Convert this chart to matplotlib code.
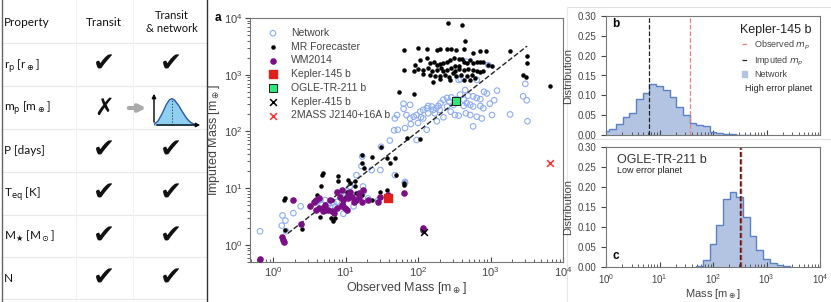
import numpy as np
import matplotlib
matplotlib.use("Agg")
import matplotlib.pyplot as plt
from matplotlib.lines import Line2D
from matplotlib.patches import Patch

plt.rcParams['font.family'] = ['Liberation Sans', 'DejaVu Sans']

# ---------------- data (log10 of masses in Earth masses) ----------------
# Network imputations
net_obs_log = [0.13, 0.17, 0.12, 0.18, -0.18, 0.28, 0.38, 0.59, 0.65, 0.72, 0.76, 0.83, 0.88, 0.95,
               1.02, 1.06, 1.15, 1.22, 1.23, 1.36, 1.48, 1.68, 1.82, 1.82, 0.97, 1.11, 1.25, 1.24,
               1.31, 1.45, 0.86, 0.67, 1.15, 0.79,
               2.56, 2.59, 2.67, 2.81, 2.97, 3.48, 3.45, 3.50, 3.51, 3.27, 3.09, 3.05, 2.95, 2.91,
               2.86, 2.81, 2.76, 2.69, 2.65, 2.63, 2.58, 2.53, 2.46, 2.43, 2.40, 2.35, 2.31, 2.28,
               2.25, 2.21, 2.19, 2.14, 2.12, 2.07, 2.03, 1.98, 1.94, 1.89, 1.84, 1.80, 1.80, 1.71,
               1.68, 2.07, 2.14, 2.23, 2.30, 2.40, 2.49, 2.63, 2.67, 2.72, 2.76, 2.86, 2.90, 2.99,
               3.02, 2.88, 2.76, 2.66, 2.72, 2.81, 2.04, 2.00, 1.90, 1.82, 1.72, 1.67, 1.61, 1.49,
               1.98, 2.12, 2.26, 2.35, 2.56, 1.89, 2.51, 2.45]
net_imp_log = [0.52, 0.43, 0.34, 0.24, 0.24, 0.56, 0.68, 0.75, 0.79, 0.79, 0.71, 0.75, 0.76, 0.85,
               0.94, 1.03, 1.23, 1.39, 1.56, 1.32, 1.32, 1.23, 1.11, 1.09, 0.55, 0.68, 0.94, 1.03,
               0.82, 0.79, 0.68, 0.71, 0.85, 0.65,
               2.91, 2.92, 3.23, 2.91, 3.17, 2.84, 2.62, 2.55, 2.18, 2.30, 2.72, 2.55, 2.67, 2.70,
               2.57, 2.59, 2.62, 2.63, 2.73, 2.56, 2.65, 2.57, 2.60, 2.53, 2.59, 2.56, 2.50, 2.45,
               2.41, 2.38, 2.44, 2.45, 2.41, 2.38, 2.35, 2.29, 2.26, 2.23, 2.29, 2.49, 2.40, 2.29,
               2.23, 2.23, 2.32, 2.32, 2.38, 2.44, 2.47, 2.45, 2.50, 2.47, 2.44, 2.45, 2.41, 2.49,
               2.29, 2.23, 2.09, 2.32, 2.29, 2.26, 2.25, 2.15, 2.13, 2.06, 2.03, 2.02, 1.84, 1.73,
               1.85, 2.03, 2.18, 2.25, 2.28, 2.47, 2.29, 2.35]

# MR Forecaster
mr_obs_log = [2.42, 2.61, 2.65, 1.81, 1.80, 1.74, 1.94, 1.85, 2.03, 1.49, 3.27, 3.51, 3.50, 3.45,
              3.49, 3.82,
              2.00, 2.12, 2.26, 2.30, 2.40, 2.45, 2.52, 2.63, 2.76, 2.86, 2.94,
              1.96, 2.02, 2.12, 2.17, 2.22, 2.26, 2.30, 2.35, 2.40, 2.44, 2.49, 2.56, 2.60, 2.63,
              2.67, 2.72, 2.76, 2.81, 2.86, 2.90, 2.96, 3.02,
              2.00, 2.07, 2.14, 2.19, 2.26, 2.32, 2.35, 2.40, 2.45, 2.51, 2.57, 2.63, 2.69, 2.76,
              2.81, 2.86, 2.90,
              2.17, 2.23, 2.30, 2.37, 2.43, 2.48, 2.53, 2.59, 2.67, 2.74, 2.79, 2.30, 2.44, 2.21,
              2.63, 2.72, 2.07, 1.94, 2.56, 2.51,
              1.22, 1.36, 1.57, 1.61, 1.68, 1.70, 1.81, 1.81, 0.69, 0.68, 0.90, 0.90, 0.66, 0.61,
              0.58, 0.72, 0.65, 0.80, 0.82, 0.72, 0.86, 1.04, 1.06, 1.13, 1.02, 0.99, 1.06, 1.13,
              1.15, 1.22, 1.25, 1.36, 1.48, 1.57, 0.97, 1.02, 0.16, 0.15, 0.40, 0.17, 2.07, 0.81,
              1.22]
mr_imp_log = [3.91, 3.88, 3.59, 3.44, 3.09, 2.70, 2.66, 1.89, 1.86, 1.73, 3.41, 3.33, 3.20, 3.00,
              2.96, 2.80,
              3.47, 3.45, 3.44, 3.45, 3.45, 3.45, 3.44, 3.45, 3.38, 3.41, 3.41,
              3.17, 3.26, 3.29, 3.20, 3.23, 3.17, 3.19, 3.20, 3.23, 3.26, 3.29, 3.27, 3.27, 3.23,
              3.20, 3.26, 3.20, 3.23, 3.22, 3.23, 3.17, 3.15,
              3.10, 3.09, 3.12, 3.07, 3.09, 3.12, 3.06, 3.09, 3.12, 3.07, 3.10, 3.09, 3.10, 3.09,
              3.07, 3.04, 3.06,
              3.00, 2.97, 2.98, 3.00, 2.96, 3.03, 2.98, 3.00, 2.98, 3.00, 2.94, 2.92, 2.91, 2.88,
              2.91, 2.91, 3.02, 3.06, 3.16, 3.16,
              1.59, 1.55, 1.53, 1.44, 1.53, 1.23, 1.09, 1.06, 1.26, 1.23, 1.22, 1.12, 1.03, 0.88,
              0.79, 0.62, 0.50, 0.47, 0.43, 0.59, 0.47, 1.15, 1.09, 1.12, 0.94, 0.82, 0.88, 1.03,
              0.91, 1.44, 1.35, 0.79, 0.94, 0.97, 0.73, 0.62, 0.83, 0.79, 0.28, 0.26, 0.24, 0.79,
              0.88]

# WM2014
wm_obs_log = [-0.18, 0.12, 0.13, 0.15, 0.28, 0.38, 0.57, 0.59, 0.63, 0.64, 0.69, 0.72, 0.76, 0.81,
              0.84, 0.88, 0.95, 0.95, 0.97, 0.99, 1.02, 1.03, 1.06, 1.09, 1.11, 1.15, 1.18, 1.22,
              1.24, 1.31, 1.45, 1.48, 1.59, 1.81, 2.07, 2.07, 0.95, 0.79, 0.59, 0.69, 0.92, 1.04,
              1.18, 0.51, 0.88]
wm_imp_log = [-0.24, 0.14, 0.09, 0.06, 0.79, 0.37, 0.75, 0.79, 0.82, 0.65, 0.59, 0.71, 0.62, 0.59,
              0.56, 0.94, 0.71, 0.68, 0.79, 0.65, 0.62, 0.88, 0.94, 0.85, 0.76, 0.79, 0.91, 0.76,
              0.97, 0.79, 0.76, 0.85, 0.88, 0.92, 0.29, 0.26, 0.97, 0.79, 0.62, 0.65, 0.85, 0.82,
              0.85, 0.68, 0.65]

# highlighted planets (observed, imputed) in Earth masses
kepler145 = (38, 6.6)
ogle211 = (331, 347)
kepler415 = (120, 1.7)
mass2_j2140 = (6600, 28)
fit_range = [1.6, 3200]

# panel b / c histograms: bins of 0.125 dex centred on log10 m = 0, 0.125, ...
bin_width = 0.125
k145_hist = [0.010, 0.015, 0.028, 0.045, 0.056, 0.090, 0.105, 0.128, 0.124, 0.113, 0.095, 0.070,
             0.050, 0.031, 0.025, 0.023, 0.008, 0.006, 0.003, 0.003, 0.001, 0.001, 0.0005]
k145_obs, k145_imp = 37, 6.3
ogle_first_bin = 14
ogle_hist = [0.002, 0.018, 0.058, 0.104, 0.171, 0.188, 0.175, 0.125, 0.077, 0.042, 0.021,
             0.010, 0.005, 0.002]
ogle_obs, ogle_imp = 331, 325

# table
properties = ['r$_\\mathrm{p}$ [r$_\\oplus$]', 'm$_\\mathrm{p}$ [m$_\\oplus$]', 'P [days]',
              'T$_\\mathrm{eq}$ [K]', 'M$_\\bigstar$ [M$_\\odot$]', 'N']
transit_ok = [True, False, True, True, True, True]
# sketch of the imputed distribution in the table
sketch_x = [0.0, 0.1, 0.2, 0.3, 0.38, 0.44, 0.5, 0.6, 0.7, 0.8, 0.9, 1.0]
sketch_y = [0.02, 0.15, 0.42, 0.75, 0.93, 0.97, 0.92, 0.72, 0.47, 0.24, 0.09, 0.02]

# ---------------- figure ----------------
W, H = 831, 302
fig = plt.figure(figsize=(W / 100, H / 100), dpi=100)
bg = fig.add_axes([0, 0, 1, 1])
bg.set_xlim(0, W)
bg.set_ylim(H, 0)
bg.axis('off')

# table grid
row_lines = [43, 86, 129, 172, 215, 257, 299]
for yl in row_lines:
    bg.plot([2, 207], [yl, yl], color='#e8e8e8', lw=0.8)
for xl in [76, 133]:
    bg.plot([xl, xl], [0, 300], color='#f0f0f0', lw=0.8)
bg.plot([2, 2], [0, 302], color='#666', lw=1)
bg.plot([207, 207], [0, 302], color='#333', lw=1)

tfont = dict(family=['Lato', 'DejaVu Sans'], color='#111')
bg.text(4, 23, 'Property', fontsize=8.5, va='center', **tfont)
bg.text(104, 23, 'Transit', fontsize=8.5, va='center', ha='center', **tfont)
bg.text(172, 22, 'Transit\n& network', fontsize=8, va='center', ha='center',
        linespacing=1.3, **tfont)
for i, (lab, ok) in enumerate(zip(properties, transit_ok)):
    yc = 65 + i * 42.8
    bg.text(4, yc, lab, fontsize=8.5, va='center', **tfont)
    if ok:
        bg.text(104, yc, '\u2714', fontsize=19, ha='center', va='center',
                family='DejaVu Sans', color='#111')
    else:
        bg.text(104, yc, '\u2717', fontsize=17, ha='center', va='center',
                family='DejaVu Sans', color='#111', fontweight='bold')
    if i != 1:
        bg.text(171, yc, '\u2714', fontsize=19, ha='center', va='center',
                family='DejaVu Sans', color='#111')
bg.annotate('', xy=(149, 108), xytext=(126, 108),
            arrowprops=dict(arrowstyle='-|>', color='#aaaaaa', lw=3, mutation_scale=10))

# light frame around right panels
bg.plot([567, 831], [7, 7], color='#e2e2e2', lw=0.8)
bg.plot([567, 567], [7, 302], color='#e8e8e8', lw=0.8)
bg.plot([576, 831], [139, 139], color='#e2e2e2', lw=0.8)

# sketch inset
ins = fig.add_axes([154 / W, 1 - 125 / H, 49 / W, 34 / H])
ins.fill_between(sketch_x, sketch_y, color='#8fd0f2')
ins.plot(sketch_x, sketch_y, color='#2b5da8', lw=1)
ins.plot([0.44, 0.44], [0, 0.97], color='#333', lw=0.8, ls=':')
ins.set_xlim(0, 1.2)
ins.set_ylim(0, 1.25)
ins.axis('off')
ins.annotate('', xy=(1.2, 0), xytext=(0, 0),
             arrowprops=dict(arrowstyle='-|>', color='k', lw=1, mutation_scale=6))
ins.annotate('', xy=(0, 1.25), xytext=(0, 0),
             arrowprops=dict(arrowstyle='-|>', color='k', lw=1, mutation_scale=6))

# ---------------- panel a ----------------
spine_c = '#777777'
txt_c = '#444444'
ax = fig.add_axes([250 / W, 1 - 262 / H, 313 / W, 244 / H])
ax.scatter(10 ** np.array(net_obs_log), 10 ** np.array(net_imp_log), s=16, facecolors='none',
           edgecolors='#8cacf2', linewidths=0.8, label='Network', zorder=2)
ax.scatter(10 ** np.array(mr_obs_log), 10 ** np.array(mr_imp_log), s=5, color='k',
           label='MR Forecaster', zorder=3)
ax.scatter(10 ** np.array(wm_obs_log), 10 ** np.array(wm_imp_log), s=14, color='#7a0f85',
           label='WM2014', zorder=4)
ax.scatter(*kepler145, marker='s', s=26, color='#e0201b', label='Kepler-145 b', zorder=5)
ax.scatter(*ogle211, marker='s', s=30, color='#2fe87a', edgecolors='k', linewidths=0.6,
           label='OGLE-TR-211 b', zorder=5)
ax.scatter(*kepler415, marker='x', s=24, color='k', linewidths=1.1, label='Kepler-415 b', zorder=5)
ax.scatter(*mass2_j2140, marker='x', s=24, color='#ff3030', linewidths=1.1,
           label='2MASS J2140+16A b', zorder=5)
ax.plot(fit_range, fit_range, ls='--', color='#222', lw=1, zorder=3)
ax.set_xscale('log')
ax.set_yscale('log')
ax.set_xlim(0.48, 1e4)
ax.set_ylim(0.5, 1e4)
ax.set_xlabel('Observed Mass [m$_\\oplus$]', fontsize=9, color=txt_c, labelpad=1)
ax.set_ylabel('Imputed Mass [m$_\\oplus$]', fontsize=9, color=txt_c, labelpad=1)
ax.tick_params(axis='both', which='both', labelsize=8, colors=txt_c, pad=2)
ax.tick_params(axis='x', which='both', direction='in')
for s in ax.spines.values():
    s.set_color(spine_c)
leg = ax.legend(loc='upper left', bbox_to_anchor=(0.02, 0.985), frameon=False, fontsize=7.5,
                labelspacing=0.36, handletextpad=0.7, borderaxespad=0.2)
for t in leg.get_texts():
    t.set_color(txt_c)
bg.text(218, 18, 'a', fontsize=8.5, fontweight='bold', va='center', ha='center')

# ---------------- panels b and c ----------------
def hist_panel(axh, first_bin, heights):
    edges = 10 ** ((np.arange(len(heights) + 1) + first_bin) * bin_width - bin_width / 2)
    axh.stairs(heights, edges, fill=True, color='#b3c4e3', zorder=1)
    axh.stairs(heights, edges, color='#5a80c6', lw=1.0, zorder=2)
    axh.set_xscale('log')
    axh.set_xlim(1, 1e4)
    axh.set_ylim(0, 0.30)
    axh.set_yticks([0, 0.05, 0.10, 0.15, 0.20, 0.25, 0.30])
    axh.set_yticklabels(['0.00', '0.05', '0.10', '0.15', '0.20', '0.25', '0.30'])
    axh.tick_params(axis='both', which='both', labelsize=7, colors=txt_c)
    axh.tick_params(axis='x', which='both', direction='in')
    axh.set_ylabel('Distribution', fontsize=8, color=txt_c, labelpad=3)
    for s in axh.spines.values():
        s.set_color(spine_c)


axb = fig.add_axes([606 / W, 1 - 135 / H, 214 / W, 119 / H])
hist_panel(axb, 0, k145_hist)
axb.axvline(k145_imp, color='#222', ls='--', lw=0.9)
axb.axvline(k145_obs, color='#e98080', ls='--', lw=0.9)
axb.set_xticklabels([])
handles = [Line2D([], [], color='#e98080', ls='--', lw=0.9),
           Line2D([], [], color='#222', ls='--', lw=0.9),
           Patch(color='#b3c4e3')]
lb = axb.legend(handles, ['Observed $m_p$', 'Imputed $m_p$', 'Network'], title='Kepler-145 b',
                loc='upper right', bbox_to_anchor=(1.0, 1.0), frameon=False, fontsize=6.5,
                title_fontsize=9, handlelength=0.6, handletextpad=0.8, labelspacing=0.3)
for t in lb.get_texts():
    t.set_color(txt_c)
lb.get_title().set_color('#222')
axb.text(0.65, 0.39, 'High error planet', transform=axb.transAxes, fontsize=6.5, color='#222',
         va='center')
axb.text(0.03, 0.91, 'b', transform=axb.transAxes, fontsize=8.5, fontweight='bold')

axc = fig.add_axes([606 / W, 1 - 267 / H, 214 / W, 120 / H])
hist_panel(axc, ogle_first_bin, ogle_hist)
axc.axvline(ogle_imp, color='#222', ls='--', lw=1)
axc.axvline(ogle_obs, color='#c0302a', ls='--', lw=1)
axc.set_xlabel('Mass [m$_\\oplus$]', fontsize=8, color=txt_c, labelpad=1)
axc.text(0.05, 0.87, 'OGLE-TR-211 b', transform=axc.transAxes, fontsize=9, color='#333')
axc.text(0.05, 0.78, 'Low error planet', transform=axc.transAxes, fontsize=6.5, color='#222')
axc.text(0.03, 0.07, 'c', transform=axc.transAxes, fontsize=8.5, fontweight='bold')

fig.savefig('out.png', dpi=100)
